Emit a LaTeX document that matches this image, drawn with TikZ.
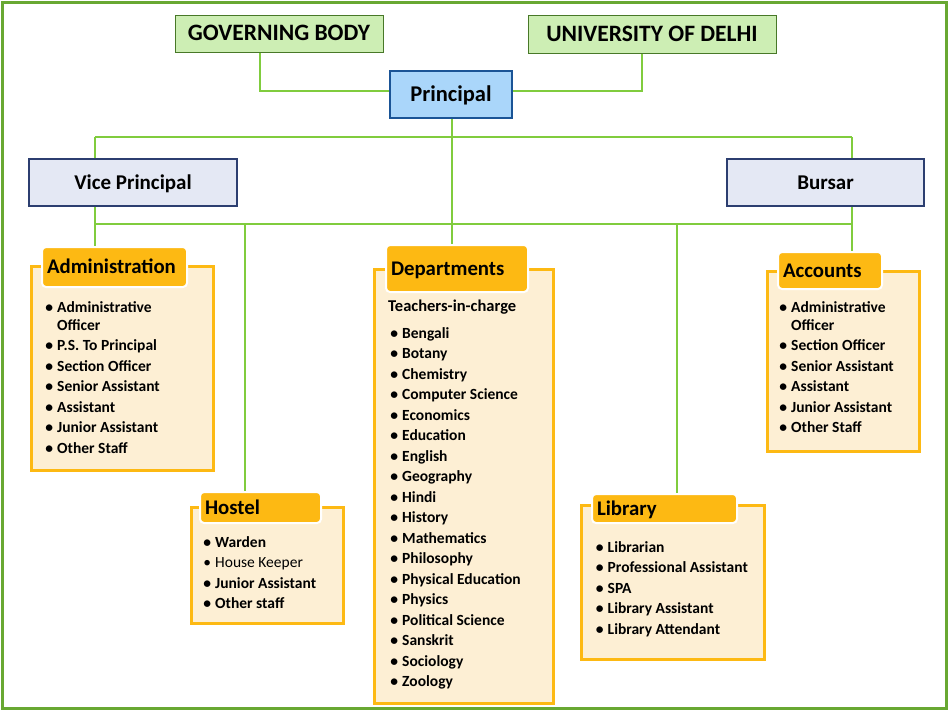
\documentclass[tikz,border=0pt]{standalone}
\usepackage{fontspec}
\setmainfont{Carlito}
\definecolor{framegreen}{RGB}{104,168,50}
\definecolor{linkgreen}{RGB}{128,204,62}
\definecolor{gbfill}{RGB}{205,238,180}
\definecolor{gbborder}{RGB}{72,120,40}
\definecolor{prfill}{RGB}{170,214,250}
\definecolor{prborder}{RGB}{26,84,150}
\definecolor{vpfill}{RGB}{228,232,244}
\definecolor{vpborder}{RGB}{44,62,112}
\definecolor{hdrorange}{RGB}{253,185,19}
\definecolor{bodyfill}{RGB}{253,239,212}
\newcommand\bul{\llap{\textbullet\hspace{4pt}}}
\begin{document}
\begin{tikzpicture}[x=1pt,y=-1pt,
  link/.style={draw=linkgreen, line width=1.2pt},
  frame/.style={draw=framegreen, line width=3pt},
  topbox/.style={draw=gbborder, fill=gbfill, line width=1pt, inner sep=0pt,
    font=\fontsize{23.5}{26}\selectfont\bfseries, text height=14.8pt, text depth=0pt},
  princ/.style={draw=prborder, fill=prfill, line width=2.2pt, inner sep=0pt,
    font=\fontsize{22.5}{26}\selectfont\bfseries, text height=14.2pt, text depth=0pt},
  officer/.style={draw=vpborder, fill=vpfill, line width=2.4pt, inner sep=0pt,
    font=\fontsize{21}{24}\selectfont\bfseries, text height=13.4pt, text depth=0pt},
  body/.style={draw=hdrorange, fill=bodyfill, line width=3pt, inner sep=0pt},
  hdr/.style={draw=white, fill=hdrorange, line width=2pt, rounded corners=4pt,
    inner xsep=5pt, inner ysep=0pt, align=left,
    font=\fontsize{20.8}{24}\selectfont\bfseries, text height=13pt, text depth=0pt},
  item/.style={anchor=base west, inner sep=0pt, font=\fontsize{15.5}{18}\selectfont\bfseries},
]
\useasboundingbox (0,0) rectangle (950,712);
\fill[white] (0,0) rectangle (950,712);
\draw[frame] (2.5,2.5) rectangle (946.5,708.5);

% top level
\node[topbox, minimum width=208pt, minimum height=37pt] (gb) at (279,33.5) {GOVERNING BODY};
\node[topbox, minimum width=248pt, minimum height=38pt] (ud) at (652,34) {UNIVERSITY OF DELHI};
\node[princ, minimum width=122pt, minimum height=47pt] (pr) at (451,94.5) {Principal};
\node[officer, minimum width=208pt, minimum height=47pt] (vp) at (133,182.5) {Vice Principal};
\node[officer, minimum width=197pt, minimum height=47pt] (bu) at (825.5,182.5) {Bursar};

% section bodies
\node[body, minimum width=182pt, minimum height=204pt] (admB) at (122,368) {};
\node[body, minimum width=179pt, minimum height=434pt] (depB) at (463.5,486) {};
\node[body, minimum width=152pt, minimum height=180pt] (accB) at (843,361) {};
\node[body, minimum width=152pt, minimum height=116pt] (hosB) at (267,565) {};
\node[body, minimum width=183pt, minimum height=154pt] (libB) at (672.5,582) {};

% section headers
\node[hdr, text width=135pt, minimum height=40pt] (admH) at (114.5,267) {Administration};
\node[hdr, text width=132pt, minimum height=47pt] (depH) at (457,268.5) {Departments};
\node[hdr, text width=94pt, minimum height=37pt] (accH) at (830,270.5) {Accounts};
\node[hdr, text width=111pt, minimum height=31pt] (hosH) at (260.5,507.5) {Hostel};
\node[hdr, text width=135pt, minimum height=29pt] (libH) at (664.5,508.5) {Library};

% connectors
\coordinate (xgb) at (260,0);
\coordinate (xud) at (642,0);
\coordinate (ylink) at (0,91);
\coordinate (xpr) at (452,0);
\coordinate (busL1) at (95,137);
\coordinate (busR1) at (852,137);
\coordinate (busL2) at (95,224);
\coordinate (busR2) at (852,224);
\coordinate (xhos) at (245,224);
\coordinate (xlib) at (677,224);
\draw[link] (xgb |- gb.south) |- (pr.west |- ylink);
\draw[link] (xud |- ud.south) |- (pr.east |- ylink);
\draw[link] (busL1) -- (busR1);
\draw[link] (busL1) -- (busL1 |- vp.north);
\draw[link] (busR1) -- (busR1 |- bu.north);
\draw[link] (xpr |- pr.south) -- (xpr |- depH.north);
\draw[link] (busL2) -- (busR2);
\draw[link] (busL2 |- vp.south) -- (busL2 |- admH.north);
\draw[link] (busR2 |- bu.south) -- (busR2 |- accH.north);
\draw[link] (xhos) -- (xhos |- hosH.north);
\draw[link] (xlib) -- (xlib |- libH.north);

% Administration staff
\node[item] (adm1) at (57,312) {\bul Administrative};
\node[item] (adm1b) at (57,330) {Officer};
\foreach \yy/\tt [count=\i] in {350.5/{P.S. To Principal}, 371/{Section Officer},
    391.5/{Senior Assistant}, 412/{Assistant}, 432.5/{Junior Assistant}, 453/{Other Staff}}
  \node[item] (adm\i) at (57,\yy) {\bul\tt};

% Accounts staff
\node[item] (acc1) at (791,312) {\bul Administrative};
\node[item] (acc1b) at (791,330) {Officer};
\foreach \yy/\tt [count=\i] in {350.5/{Section Officer}, 371/{Senior Assistant},
    391.5/{Assistant}, 412/{Junior Assistant}, 432.5/{Other Staff}}
  \node[item] (acc\i) at (791,\yy) {\bul\tt};

% Departments
\node[item, font=\fontsize{16.5}{18}\selectfont\bfseries] (teach) at (388,311) {Teachers-in-charge};
\foreach \tt [count=\i] in {Bengali, Botany, Chemistry, Computer Science, Economics,
    Education, English, Geography, Hindi, History, Mathematics, Philosophy,
    Physical Education, Physics, Political Science, Sanskrit, Sociology, Zoology}
  \node[item] (dep\i) at (402,{338+20.5*(\i-1)}) {\bul\tt};

% Hostel staff
\node[item] (hos1) at (215,547) {\bul Warden};
\node[item, font=\fontsize{15.5}{18}\selectfont] (hos2) at (215,567.5) {\bul House Keeper};
\node[item] (hos3) at (215,588) {\bul Junior Assistant};
\node[item] (hos4) at (215,608.5) {\bul Other staff};

% Library staff
\foreach \yy/\tt [count=\i] in {552/{Librarian}, 572.5/{Professional Assistant},
    593/{SPA}, 613.5/{Library Assistant}, 634/{Library Attendant}}
  \node[item] (lib\i) at (607.5,\yy) {\bul\tt};
\end{tikzpicture}
\end{document}
